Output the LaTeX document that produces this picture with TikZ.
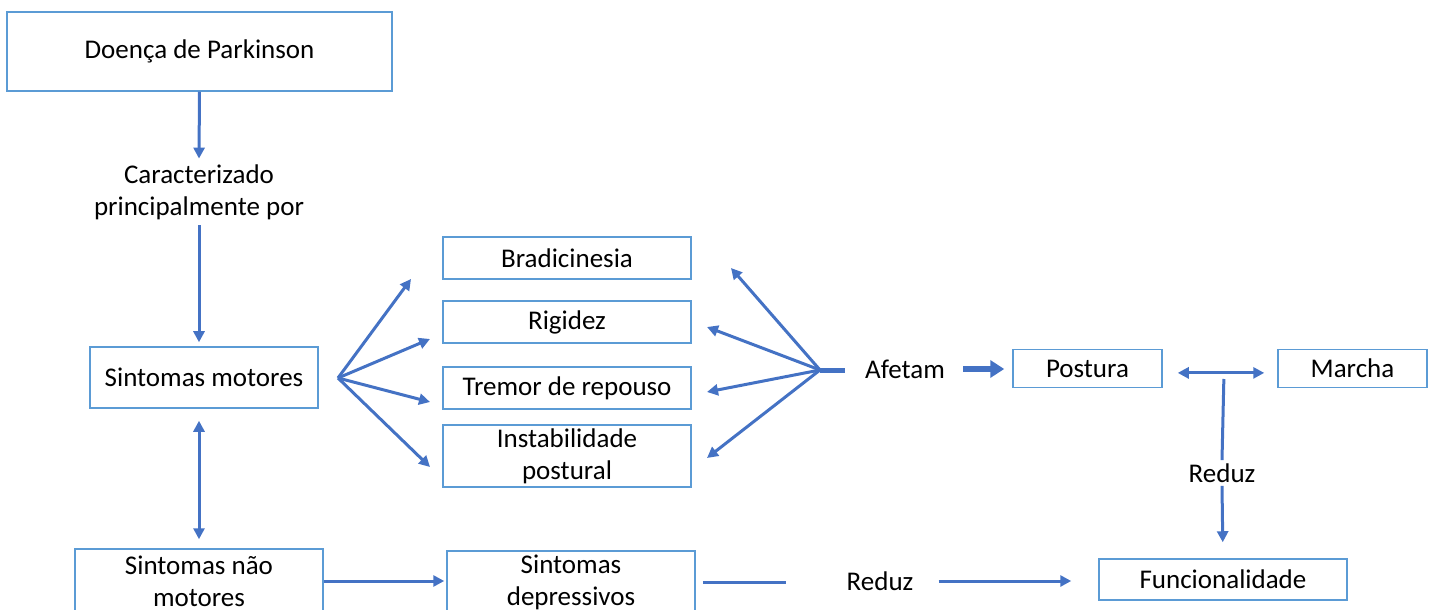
\documentclass[tikz,border=0pt]{standalone}
\usepackage{fontspec}
\setmainfont{Carlito}
\usetikzlibrary{arrows.meta}
\definecolor{arrowblue}{HTML}{4472C4}
\definecolor{boxblue}{HTML}{5B9BD5}
\tikzset{
  box/.style={draw=boxblue, line width=0.75pt, fill=white, inner sep=0pt, align=center, font=\fontsize{13.5}{16}\selectfont},
  lbl/.style={inner sep=0pt, align=center, font=\fontsize{13.5}{16}\selectfont},
  arr/.style={draw=arrowblue, line width=1.5pt, -{Triangle[length=5.5pt,width=5.5pt]}},
  darr/.style={draw=arrowblue, line width=1.5pt, {Triangle[length=5.5pt,width=5.5pt]}-{Triangle[length=5.5pt,width=5.5pt]}},
  ln/.style={draw=arrowblue, line width=1.5pt},
  thickarr/.style={draw=arrowblue, line width=3pt, -{Triangle[length=7pt,width=8.5pt]}},
}
\begin{document}
\begin{tikzpicture}[x=0.5pt, y=-0.5pt]
\useasboundingbox (0,0) rectangle (1432,610);
\clip (0,0) rectangle (1432,610);
% boxes
\node[box, minimum width=192.5pt, minimum height=39.5pt] (doenca) at (199.5,51.5) {Doença de Parkinson};
\node[lbl, minimum height=33pt] (carac) at (199,192) {Caracterizado\\principalmente por};
\node[box, minimum width=114pt, minimum height=30.5pt] (motores) at (204,377.5) {Sintomas motores};
\node[box, minimum width=124pt, minimum height=32pt] (naomot) at (199,581) {Sintomas não\\motores};
\node[box, minimum width=124pt, minimum height=31pt] (deprev) at (571,582) {Sintomas\\depressivos};
\node[box, minimum width=124pt, minimum height=21pt] (brad) at (567,258) {Bradicinesia};
\node[box, minimum width=124pt, minimum height=21pt] (rig) at (567,322) {Rigidez};
\node[box, minimum width=124pt, minimum height=21pt] (trem) at (567,388) {Tremor de repouso};
\node[box, minimum width=124pt, minimum height=31pt] (inst) at (567,456) {Instabilidade\\postural};
\node[box, minimum width=74.5pt, minimum height=19pt] (postura) at (1087.5,368.5) {Postura};
\node[box, minimum width=74.5pt, minimum height=19pt] (marcha) at (1352.5,368.5) {Marcha};
\node[box, minimum width=124pt, minimum height=20.5pt] (func) at (1223,579.5) {Funcionalidade};
\node[lbl, minimum height=12.5pt] (afetam) at (905,369) {Afetam};
\node[lbl, minimum height=12.5pt] (reduzA) at (880,581) {Reduz};
\node[lbl, minimum height=12.5pt] (reduzB) at (1222,473) {Reduz};
% free ends
\coordinate (fanL) at (338,378);
\coordinate (fanR) at (820,370);
\coordinate (L1) at (411,279);
\coordinate (L2) at (430,339);
\coordinate (L3) at (430,402);
\coordinate (L4) at (430,467);
\coordinate (R1) at (731,268);
\coordinate (R2) at (707,327);
\coordinate (R3) at (707,392);
\coordinate (R4) at (707,458);
\coordinate (vtop) at (1224,373);
% connectors
\draw[arr] (doenca.south) -- (carac.north);
\draw[arr, shorten >=2pt] (carac.south) -- (carac.south |- motores.north);
\draw[darr, shorten <=6pt, shorten >=4.5pt] (naomot.north |- motores.south) -- (naomot.north);
\draw[arr, shorten >=1pt] (naomot.east) -- (naomot.east -| deprev.west);
\draw[ln, shorten <=3.5pt, shorten >=30pt] (deprev.east) -- (deprev.east -| reduzA.west);
\draw[arr, shorten <=12.5pt, shorten >=13.5pt] (reduzA.east) -- (reduzA.east -| func.west);
\foreach \e in {L1,L2,L3,L4} \draw[arr] (fanL) -- (\e);
\foreach \e in {R1,R2,R3,R4} \draw[arr] (fanR) -- (\e);
\draw[draw=arrowblue, line width=2.5pt, shorten >=10pt] (fanR) -- (afetam.west |- fanR);
\draw[thickarr, shorten <=9pt, shorten >=4pt] (afetam.east) -- (afetam.east -| postura.west);
\draw[darr, shorten <=7.5pt, shorten >=6.5pt] ([yshift=-2.2pt]postura.east) -- ([yshift=-2.2pt]marcha.west);
\draw[ln, shorten <=3pt] (vtop) -- (reduzB.north);
\draw[arr, shorten >=8pt] (reduzB.south) -- (func.north);
\end{tikzpicture}
\end{document}
